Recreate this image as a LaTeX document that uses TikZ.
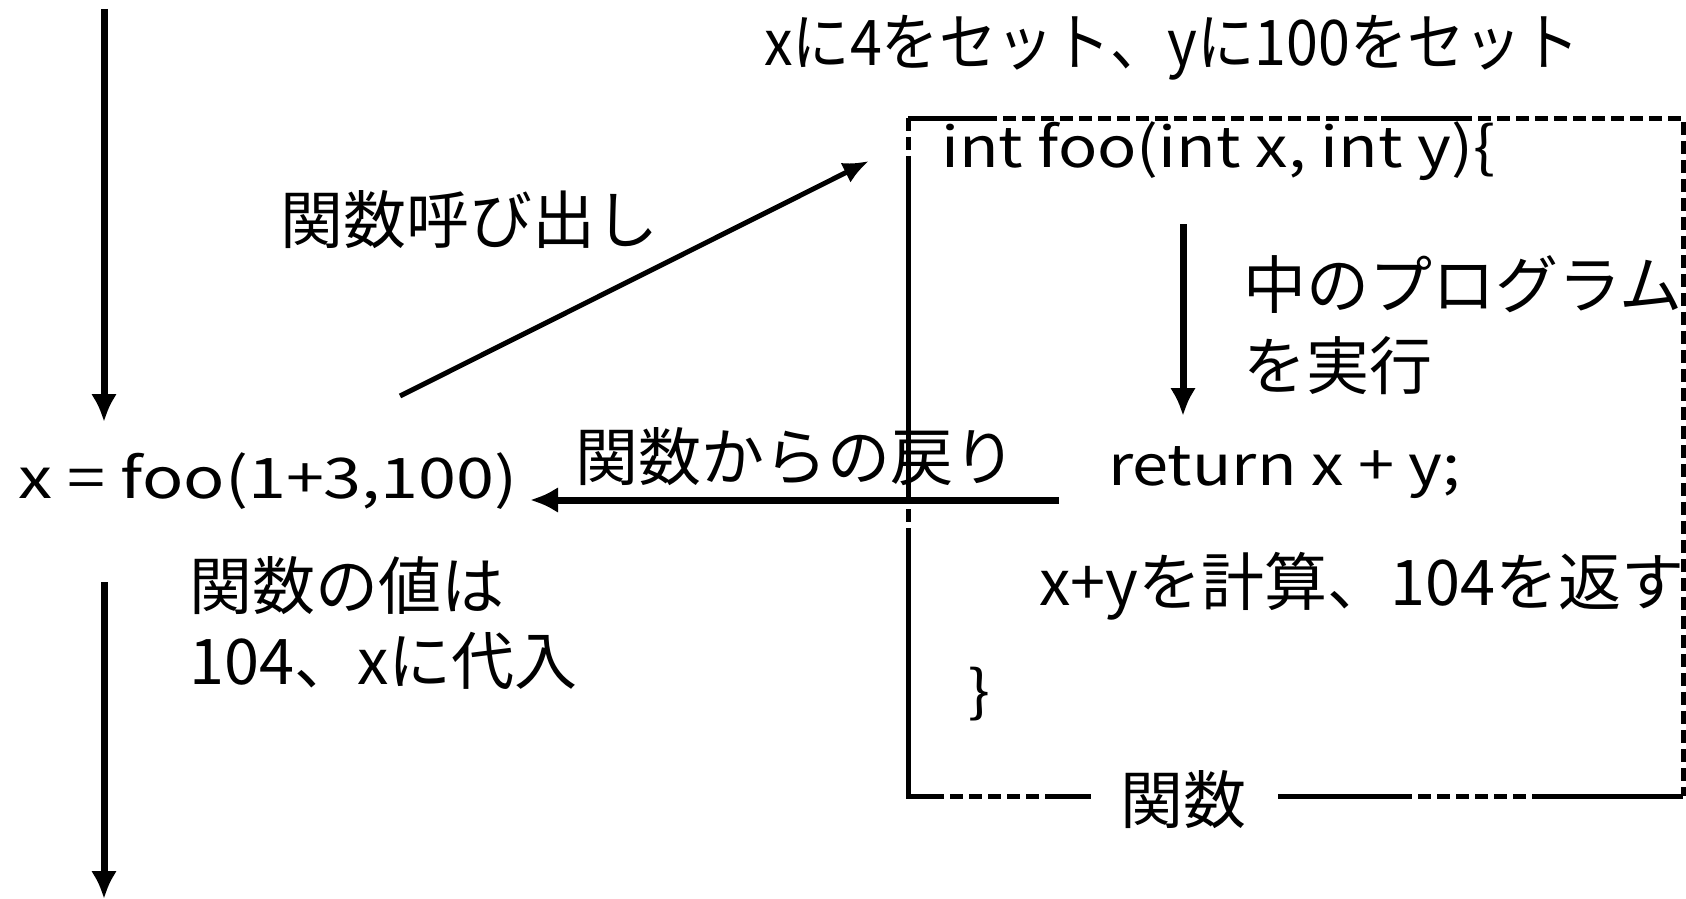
\documentclass[tikz,border=0pt]{standalone}
\usepackage{fontspec}
\setmainfont{Noto Sans CJK JP}
\newfontfamily\codefont[FakeStretch=1.16]{Noto Sans CJK JP}
\newfontfamily\mainfont[FakeStretch=1.22]{Noto Sans CJK JP}
\newfontfamily\topfont[FakeStretch=0.91]{Noto Sans CJK JP}
\usetikzlibrary{arrows.meta}
\begin{document}
\begin{tikzpicture}[x=1pt,y=-1pt,
  lbl/.style={inner sep=0pt,anchor=west,font=\fontsize{63}{72}\selectfont},
  code/.style={inner sep=0pt,anchor=west,font=\codefont\fontsize{56}{66}\selectfont},
  arr/.style={line width=7pt,-{Latex[length=28pt,width=26pt]}},
  darr/.style={line width=5pt,-{Latex[length=26pt,width=22pt]}},
  boxsolid/.style={line width=5pt},
  boxdash/.style={line width=5pt,dash pattern=on 13pt off 6pt}]
\useasboundingbox (0,0) rectangle (1686,899);
% coordinates
\coordinate (topstart) at (104,9);
\coordinate (topend) at (104,422);
\coordinate (botstart) at (104,582);
\coordinate (botend) at (104,899);
\coordinate (callstart) at (400,396);
\coordinate (callend) at (869,161);
\coordinate (retstart) at (1059,500);
\coordinate (retend) at (530,500);
\coordinate (instart) at (1183,224);
\coordinate (inend) at (1183,416);
% texts
\node[code,font=\mainfont\fontsize{56}{66}\selectfont] (main) at (18,481) {x = foo(1+3,100)};
\node[lbl,font=\topfont\fontsize{63}{72}\selectfont] (topnote) at (764,48) {xに4をセット、yに100をセット};
\node[lbl] (callnote) at (280,220) {関数呼び出し};
\node[lbl] (retnote) at (575,457) {関数からの戻り};
\node[code] (code1) at (941,151) {int foo(int x, int y)\{};
\node[lbl] (inner1) at (1243,285) {中のプログラム};
\node[lbl] (inner2) at (1243,366) {を実行};
\node[code] (code2) at (1108,473) {return x + y;};
\node[lbl] (calcnote) at (1039,586) {x+yを計算、104を返す};
\node[code] (code3) at (968,694) {\}};
\node[lbl] (val1) at (189,586) {関数の値は};
\node[lbl] (val2) at (189,661) {104、xに代入};
\node[lbl,anchor=center] (boxlabel) at (1183,800) {関数};
% arrows
\draw[arr] (topstart) -- (topend);
\draw[arr] (botstart) -- (botend);
\draw[darr] (callstart) -- (callend);
\draw[arr] (retstart) -- (retend);
\draw[arr] (instart) -- (inend);
% box
\draw[boxdash] (908,118) -- (1683,118) -- (1683,796);
\draw[boxsolid] (908,118) -- (988,118);
\draw[boxsolid] (1381,118) -- (1461,118);
\draw[boxdash] (908,118) -- (908,161);
\draw[boxsolid] (908,161) -- (908,490);
\draw[boxdash] (908,490) -- (908,532);
\draw[boxsolid] (908,532) -- (908,796) -- (931,796);
\draw[boxdash] (931,796) -- (1050,796);
\draw[boxsolid] (1050,796) -- (1091,796);
\draw[boxsolid] (1278,796) -- (1399,796);
\draw[boxdash] (1399,796) -- (1533,796);
\draw[boxsolid] (1533,796) -- (1683,796);
\end{tikzpicture}
\end{document}
